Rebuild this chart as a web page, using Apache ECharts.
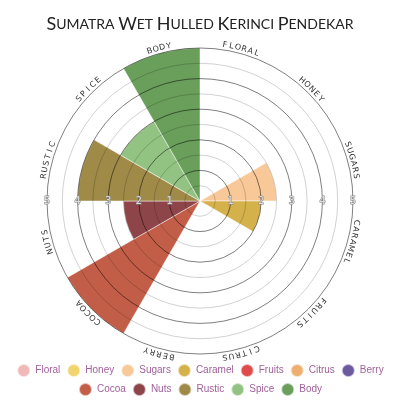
<!DOCTYPE html>
<html>
<head>
<meta charset="utf-8">
<script src="https://cdn.jsdelivr.net/npm/echarts@6/dist/echarts.min.js"></script>
<style>
  html, body { margin: 0; padding: 0; background: #fff; }
  #chart { width: 400px; height: 400px; }
</style>
</head>
<body>
<div id="chart"></div>
<script>
const titleText = 'Sumatra Wet Hulled Kerinci Pendekar'
const categories = ['Floral', 'Honey', 'Sugars', 'Caramel', 'Fruits', 'Citrus', 'Berry', 'Cocoa', 'Nuts', 'Rustic', 'Spice', 'Body']
const scores = [0, 0, 2.5, 2, 0, 0, 0, 5, 2.5, 4, 3, 5]
const colors = ['#f2b8b8', '#f2d46e', '#f8c898', '#d5b14b', '#e04b4b', '#eeb070', '#6b5a9e', '#c25d48', '#8e4549', '#a08a48', '#93c383', '#6a9e5b']
const radiusTicks = [1, 2, 3, 4, 5]
const legendRow1 = categories.slice(0, 7)
const legendRow2 = categories.slice(7)

const cx = 200
const cy = 201
const R = 153

// small caps title built from rich text
const titleRich = titleText.split(' ').map(w => '{b|' + w[0].toUpperCase() + '}{s|' + w.slice(1).toUpperCase() + '}').join('{s| }')

// curved category labels, one letter at a time
const labelR = 158
const graphics = []
categories.forEach((c, i) => {
  const s = c.toUpperCase()
  const step = 6.6 / labelR
  const mid = (i + 0.5) * 30 * Math.PI / 180
  for (let j = 0; j < s.length; j++) {
    const phi = mid + (j - (s.length - 1) / 2) * step
    graphics.push({
      type: 'text',
      x: cx + labelR * Math.sin(phi),
      y: cy - labelR * Math.cos(phi),
      rotation: -phi,
      style: {
        text: s[j],
        fill: '#333',
        fontSize: 8,
        fontFamily: 'DejaVu Sans',
        align: 'center',
        verticalAlign: 'middle'
      }
    })
  }
})

const chart = echarts.init(document.getElementById('chart'))

const ringAxis = (show, labels) => ({
  type: 'value',
  min: 0,
  max: 5,
  interval: 0.5,
  z: 5,
  axisLine: { show: false },
  axisTick: { show: false },
  splitLine: {
    show: show,
    lineStyle: { color: ['rgba(0,0,0,0.5)', 'rgba(0,0,0,0.18)'], width: 1 }
  },
  axisLabel: {
    show: labels,
    margin: 0,
    align: 'center',
    verticalAlign: 'middle',
    fontFamily: 'DejaVu Sans Mono',
    fontSize: 10,
    color: 'rgba(255,255,255,0.7)',
    textBorderColor: '#888',
    textBorderWidth: 1,
    formatter: v => radiusTicks.indexOf(v) >= 0 ? String(v) : ''
  }
})

const hiddenAngle = (idx, start) => ({
  polarIndex: idx,
  type: 'value',
  startAngle: start,
  min: 0,
  max: 360,
  axisLine: { show: false },
  axisTick: { show: false },
  axisLabel: { show: false },
  splitLine: { show: false }
})

const legendBase = (names, top) => ({
  data: names,
  top: top,
  left: 'center',
  padding: 0,
  icon: 'circle',
  itemWidth: 13,
  itemHeight: 13,
  itemGap: 6,
  textStyle: { color: '#a0609a', fontSize: 10, fontFamily: 'Liberation Sans' }
})

chart.setOption({
  animation: false,
  title: {
    text: titleRich,
    left: 'center',
    top: 10,
    textStyle: {
      rich: {
        b: { fontSize: 18, fontFamily: 'Lato', fontWeight: 'normal', color: '#222' },
        s: { fontSize: 14, fontFamily: 'Lato', fontWeight: 'normal', color: '#222' }
      }
    }
  },
  legend: [legendBase(legendRow1, 363), legendBase(legendRow2, 382)],
  graphic: graphics,
  polar: [
    { center: [cx, cy], radius: R },
    { center: [cx, cy], radius: R },
    { center: [cx, cy], radius: R }
  ],
  angleAxis: [
    {
      polarIndex: 0,
      type: 'category',
      data: categories,
      startAngle: 90,
      axisLine: { show: false },
      axisTick: { show: false },
      axisLabel: { show: false },
      splitLine: { show: false }
    },
    hiddenAngle(1, 0),
    hiddenAngle(2, 180)
  ],
  radiusAxis: [
    Object.assign({ polarIndex: 0 }, ringAxis(false, false), { z: 0 }),
    Object.assign({ polarIndex: 1 }, ringAxis(true, true)),
    Object.assign({ polarIndex: 2 }, ringAxis(false, true))
  ],
  series: categories.map((c, i) => ({
    name: c,
    type: 'bar',
    coordinateSystem: 'polar',
    polarIndex: 0,
    stack: 'flavour',
    barCategoryGap: '0%',
    itemStyle: { color: colors[i], borderColor: 'rgba(255,255,255,0.6)', borderWidth: 0.8 },
    data: scores.map((v, j) => (j === i ? v : '-'))
  }))
})
</script>
</body>
</html>
